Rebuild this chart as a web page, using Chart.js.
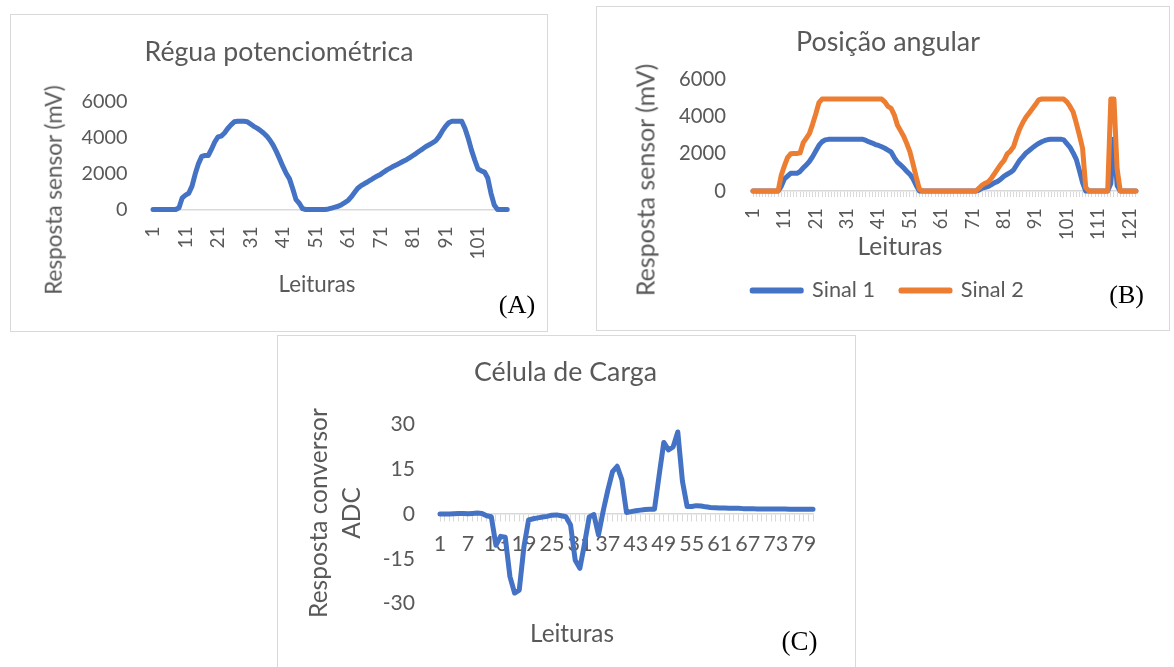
<!DOCTYPE html>
<html>
<head>
<meta charset="utf-8">
<script src="https://cdn.jsdelivr.net/npm/chart.js@4.4.1/dist/chart.umd.min.js"></script>
<style>
  html, body { margin: 0; padding: 0; background: #ffffff; width: 1174px; height: 667px; overflow: hidden; position: relative; }
  .box { position: absolute; box-sizing: border-box; border: 1px solid #d9d9d9; background: #ffffff; }
  .box canvas { position: absolute; left: 0; top: 0; }
  .t { position: absolute; white-space: nowrap; color: #595959; line-height: 1; font-family: Lato, sans-serif; }
  .lab { position: absolute; white-space: nowrap; color: #000000; line-height: 1; font-family: 'Liberation Serif', 'Times New Roman', serif; }
</style>
</head>
<body>
<div class="box" style="left:10px;top:14px;width:538px;height:318px"><canvas id="cA" width="536" height="316"></canvas></div>
<div class="box" style="left:596px;top:6px;width:574px;height:325px"><canvas id="cB" width="572" height="323"></canvas></div>
<div class="box" style="left:277px;top:335px;width:579px;height:340px"><canvas id="cC" width="577" height="331"></canvas></div>
<script>
// ---------------- DATA ----------------
const titleA = 'Régua potenciométrica';
const titleB = 'Posição angular';
const titleC = 'Célula de Carga';
const yTitleAB = 'Resposta sensor (mV)';
const yTitleC = ['Resposta conversor', 'ADC'];
const xTitle = 'Leituras';
const panelLetters = ['(A)', '(B)', '(C)'];

const categoriesA = Array.from({length: 110}, (_, i) => String(i + 1));
const valuesA = [
  0,0,0,0,0,0,0,0,100,650,
  800,900,1300,1980,2550,2950,3000,3000,3350,3750,
  4030,4080,4250,4500,4700,4870,4900,4900,4900,4880,
  4750,4620,4520,4400,4250,4080,3850,3560,3200,2800,
  2380,2000,1700,1150,550,350,50,0,0,0,
  0,0,0,0,30,80,130,180,270,380,
  500,700,940,1180,1320,1430,1530,1640,1760,1860,
  1950,2080,2200,2300,2400,2490,2580,2680,2770,2880,
  3000,3120,3250,3370,3500,3600,3700,3820,4050,4350,
  4620,4820,4900,4900,4900,4900,4500,3950,3300,2750,
  2250,2150,2080,1750,900,250,0,0,0,0
];
const yTicksAB = [0, 2000, 4000, 6000];

const categoriesB = Array.from({length: 123}, (_, i) => String(i + 1));
const seriesNamesB = ['Sinal 1', 'Sinal 2'];
const sinal1 = [
  0,0,0,0,0,0,0,0,0,250,
  650,800,950,950,950,1050,1250,1400,1600,1850,
  2150,2450,2650,2750,2780,2780,2780,2780,2780,2780,
  2780,2780,2780,2780,2780,2780,2720,2640,2580,2500,
  2450,2380,2300,2200,2100,1800,1550,1400,1250,1050,
  900,650,300,0,0,0,0,0,0,0,
  0,0,0,0,0,0,0,0,0,0,
  0,0,50,150,200,250,350,450,520,650,
  800,900,1000,1130,1400,1660,1850,2050,2180,2320,
  2450,2560,2650,2720,2770,2790,2790,2790,2790,2750,
  2550,2350,2050,1700,1100,450,0,0,0,0,
  0,0,0,0,400,2800,300,0,0,0,
  0,0,0
];
const sinal2 = [
  0,0,0,0,0,0,0,0,0,850,
  1350,1800,2000,2020,2020,2050,2600,2850,3100,3600,
  4150,4750,4950,4950,4950,4950,4950,4950,4950,4950,
  4950,4950,4950,4950,4950,4950,4950,4950,4950,4950,
  4950,4950,4800,4550,4450,4100,3550,3250,2950,2550,
  2100,1450,750,100,0,0,0,0,0,0,
  0,0,0,0,0,0,0,0,0,0,
  0,0,150,320,420,500,700,950,1200,1450,
  1650,2000,2150,2380,2900,3350,3700,3980,4200,4430,
  4650,4900,4950,4950,4950,4950,4950,4950,4950,4950,
  4800,4550,4250,3650,3000,2300,200,0,0,0,
  0,0,0,0,4950,4950,1200,0,0,0,
  0,0,0
];

const categoriesC = Array.from({length: 81}, (_, i) => String(i + 1));
const valuesC = [
  0,0,0,0.1,0.2,0.2,0.1,0.2,0.3,0.2,
  -0.6,-0.9,-10.5,-7.5,-7.8,-21,-26.5,-25.5,-11,-2,
  -1.6,-1.3,-1,-0.8,-0.4,-0.3,-0.6,-0.9,-3.7,-15.5,
  -18.2,-10,-1,-0.2,-7,1,8,14.2,16,11.5,
  0.5,0.8,1.1,1.3,1.5,1.6,1.6,13,24,21.5,
  22.5,27.5,11,2.5,2.5,2.8,2.7,2.4,2.2,2.1,
  2,2,1.9,1.9,1.9,1.8,1.8,1.8,1.7,1.7,
  1.7,1.7,1.7,1.7,1.7,1.6,1.6,1.6,1.6,1.6,
  1.6
];
const yTicksC = [-30, -15, 0, 15, 30];

// ---------------- STYLE / HELPERS ----------------
const FONT = 'Lato';
const GRAY = '#595959';
const AXIS = '#d9d9d9';
const BLUE = '#4472C4';
const ORANGE = '#ED7D31';
Chart.defaults.font.family = FONT;
Chart.defaults.color = GRAY;

const mctx = document.createElement('canvas').getContext('2d');
function fitSize(text, width, family) {
  mctx.font = '100px ' + family;
  return 100 * width / mctx.measureText(text).width;
}
function titleOpts(text, size, capTop, plotTop) {
  const lh = size * 1.2;
  const mid = capTop + 0.33 * size;
  return {
    display: true, text: text, color: GRAY,
    font: { family: FONT, size: size, weight: 'normal', lineHeight: 1.2 },
    padding: { top: mid - lh / 2, bottom: plotTop - mid - lh / 2 }
  };
}
function lineDs(label, data, color, width, order) {
  return {
    label: label, data: data, borderColor: color, backgroundColor: color,
    borderWidth: width, pointRadius: 0, pointHoverRadius: 0, tension: 0,
    borderCapStyle: 'round', borderJoinStyle: 'round', clip: false, order: order
  };
}
function addText(text, cx, cy, size, rotate, cls, extra) {
  const d = document.createElement('div');
  d.className = cls || 't';
  d.textContent = text;
  d.style.fontSize = size + 'px';
  d.style.left = cx + 'px';
  d.style.top = cy + 'px';
  d.style.transform = 'translate(-50%,-50%)' + (rotate ? ' rotate(-90deg)' : '') + (extra || '');
  document.body.appendChild(d);
}

// ---------------- CHART A ----------------
(function () {
  const sTitle = fitSize(titleA, 269, FONT);
  const sTick = fitSize('6000', 46, FONT);
  const sXTick = fitSize('101', 33, FONT);
  new Chart(document.getElementById('cA'), {
    type: 'line',
    data: { labels: categoriesA, datasets: [lineDs('Régua', valuesA, BLUE, 5, 0)] },
    options: {
      responsive: false, animation: false, events: [],
      layout: { padding: { left: 28, right: 28, top: 0, bottom: 0 } },
      plugins: { legend: { display: false }, tooltip: { enabled: false },
                 title: titleOpts(titleA, sTitle, 28.3, 86.5) },
      scales: {
        x: {
          type: 'category', offset: false,
          grid: { display: false, drawTicks: false },
          border: { display: true, color: AXIS, width: 1.5 },
          ticks: { autoSkip: false, minRotation: 90, maxRotation: 90, padding: 17, color: GRAY,
                   font: { family: FONT, size: sXTick },
                   callback: (v, i) => (i % 10 === 0 ? categoriesA[i] : '') },
          afterFit: (s) => { s.height = 121.5; }
        },
        y: {
          min: 0, max: 6000,
          grid: { display: false, drawTicks: false },
          border: { display: false },
          ticks: { stepSize: 2000, padding: 25.5, color: GRAY, font: { family: FONT, size: sTick },
                   callback: (v) => (yTicksAB.includes(v) ? String(v) : '') },
          afterFit: (s) => { s.width = 114; }
        }
      }
    }
  });
  const sAx = fitSize(yTitleAB, 210, FONT);
  addText(yTitleAB, 46.4 + 0.33 * sAx, 190, sAx, true);
  const sL = fitSize(xTitle, 77, FONT);
  addText(xTitle, 317, 276.7 + 0.33 * sL, sL, false);
})();

// ---------------- CHART B ----------------
(function () {
  const sTitle = fitSize(titleB, 184, FONT);
  const sTick = fitSize('6000', 47, FONT);
  const sXTick = fitSize('101', 32, FONT);
  const fL = fitSize('Sinal 1', 63, FONT);
  const lp = 26;
  const pbot = 29.5 - fL / 2;
  const hx = 323 - pbot - (fL + lp + 10) - 184;
  new Chart(document.getElementById('cB'), {
    type: 'line',
    data: { labels: categoriesB, datasets: [
      lineDs(seriesNamesB[0], sinal1, BLUE, 5, 2),
      lineDs(seriesNamesB[1], sinal2, ORANGE, 5, 1)
    ] },
    options: {
      responsive: false, animation: false, events: [],
      layout: { padding: { left: 29.5, right: 19.5, top: 0, bottom: pbot } },
      plugins: {
        tooltip: { enabled: false },
        title: titleOpts(titleB, sTitle, 26.3, 72.5),
        legend: {
          display: true, position: 'bottom',
          labels: { boxWidth: 49, boxHeight: 1, padding: lp, color: GRAY,
                    font: { family: FONT, size: fL },
                    sort: (a, b) => a.datasetIndex - b.datasetIndex }
        }
      },
      scales: {
        x: {
          type: 'category', offset: false,
          grid: { display: true, drawOnChartArea: false, drawTicks: true, tickLength: 6, color: AXIS, lineWidth: 1 },
          border: { display: true, color: AXIS, width: 1.5 },
          ticks: { autoSkip: false, minRotation: 90, maxRotation: 90, padding: 11, color: GRAY,
                   font: { family: FONT, size: sXTick },
                   callback: (v, i) => (i % 10 === 0 ? categoriesB[i] : '') },
          afterFit: (s) => { s.height = hx; }
        },
        y: {
          min: 0, max: 6000,
          grid: { display: false, drawTicks: false },
          border: { display: false },
          ticks: { stepSize: 2000, padding: 27, color: GRAY, font: { family: FONT, size: sTick },
                   callback: (v) => (yTicksAB.includes(v) ? String(v) : '') },
          afterFit: (s) => { s.width = 126.5; }
        }
      }
    }
  });
  const sAx = fitSize(yTitleAB, 233, FONT);
  addText(yTitleAB, 636.5 + 0.33 * sAx, 180, sAx, true);
  const sL = fitSize(xTitle, 85, FONT);
  addText(xTitle, 900, 238.3 + 0.33 * sL, sL, false);
})();

// ---------------- CHART C ----------------
(function () {
  const sTitle = fitSize(titleC, 183, FONT);
  const sTick = fitSize('30', 24.5, FONT);
  const sXTick = fitSize('79', 25, FONT);
  const xPad = 30 - 7 - sXTick * 0.6;
  new Chart(document.getElementById('cC'), {
    type: 'line',
    data: { labels: categoriesC, datasets: [lineDs('Célula', valuesC, BLUE, 5, 0)] },
    options: {
      responsive: false, animation: false, events: [],
      layout: { padding: { left: 40, right: 42, top: 0, bottom: 63.5 } },
      plugins: { legend: { display: false }, tooltip: { enabled: false },
                 title: titleOpts(titleC, sTitle, 27.3, 88.5) },
      scales: {
        x: {
          type: 'category', offset: false, position: { y: 0 },
          grid: { display: true, drawOnChartArea: false, drawTicks: true, tickLength: 7, color: AXIS, lineWidth: 1 },
          border: { display: true, color: AXIS, width: 1.5 },
          ticks: { autoSkip: false, maxRotation: 0, minRotation: 0, padding: xPad, color: GRAY,
                   font: { family: FONT, size: sXTick },
                   callback: (v, i) => (i % 6 === 0 ? categoriesC[i] : '') }
        },
        y: {
          min: -30, max: 30,
          grid: { display: false, drawTicks: false },
          border: { display: false },
          ticks: { stepSize: 15, padding: 25, color: GRAY, font: { family: FONT, size: sTick },
                   callback: (v) => (yTicksC.includes(v) ? String(v) : '') },
          afterFit: (s) => { s.width = 122; }
        }
      }
    }
  });
  const sAx = fitSize(yTitleC[0], 210, FONT);
  addText(yTitleC[0], 309.5 + 0.33 * sAx, 513, sAx, true);
  addText(yTitleC[1], 343.4 + 0.33 * sAx, 513, sAx, true);
  const sL = fitSize(xTitle, 84, FONT);
  addText(xTitle, 572, 625 + 0.33 * sL, sL, false);
})();

// ---------------- PANEL LETTERS ----------------
addText(panelLetters[0], 516.5, 304, 25, false, 'lab', ' scaleX(1.05)');
addText(panelLetters[1], 1126.7, 294.5, 26, false, 'lab', '');
addText(panelLetters[2], 799.5, 641, 27, false, 'lab', '');
</script>
</body>
</html>
